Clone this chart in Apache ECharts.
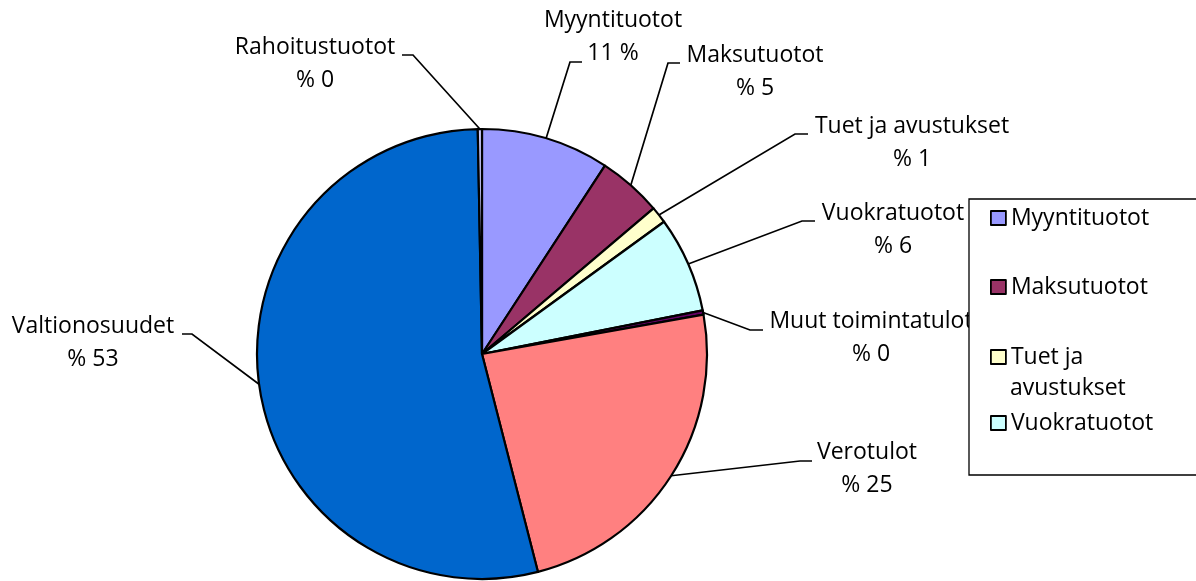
<!DOCTYPE html>
<html><head><meta charset="utf-8">
<script src="https://cdn.jsdelivr.net/npm/echarts@6/dist/echarts.min.js"></script>
<style>html,body{margin:0;padding:0;background:#fff}#c{width:1196px;height:581px}</style>
</head><body><div id="c"></div>
<script>
const categories = ['Myyntituotot','Maksutuotot','Tuet ja avustukset','Vuokratuotot','Muut toimintatulot','Verotulot','Valtionosuudet','Rahoitustuotot'];
const values = [9.2, 4.6, 1.2, 6.9, 0.3, 23.8, 53.7, 0.3];
const percentLabels = ['11 %','% 5','% 1','% 6','% 0','% 25','% 53','% 0'];
const colors = ['#9999FF','#993366','#FFFFCC','#CCFFFF','#660066','#FF8080','#0066CC','#CCCCFF'];
const legendNames = ['Myyntituotot','Maksutuotot','Tuet ja avustukset','Vuokratuotot'];
const legendTexts = ['Myyntituotot','Maksutuotot','Tuet ja','Vuokratuotot'];

const FONT = 'Open Sans';
const FS = 23;
const CX = 482, CY = 354, R = 225;
// label block centre [x, y], leader elbow [x, y], leader end [x, y]
const labelPlace = [
  [613, 37, 570, 62, 582, 62],
  [755, 72, 668, 63, 680, 63],
  [912, 143, 795, 134, 808, 134],
  [893, 230, 802, 221, 815, 221],
  [871, 338, 750, 330, 763, 330],
  [867, 469, 800, 461, 812, 461],
  [93, 343, 192, 334, 182, 334],
  [315, 64, 413, 55, 402, 55]
];
const legendTops = [201.5, 270.5, 340.5, 406.5];

const total = values.reduce((a, b) => a + b, 0);
const arcPoints = [];
let cum = 0;
values.forEach(v => {
  const th = (cum + v / 2) / total * Math.PI * 2;
  arcPoints.push([CX + R * Math.sin(th), CY - R * Math.cos(th)]);
  cum += v;
});

const chart = echarts.init(document.getElementById('c'), null, {renderer: 'canvas'});
const legends = legendNames.map((n, i) => {
  const base = {
    data: [n],
    orient: 'vertical',
    left: i === 0 ? 969 : 990,
    top: i === 0 ? 199 : legendTops[i],
    itemWidth: 15,
    itemHeight: 14,
    itemGap: 0,
    icon: 'rect',
    selectedMode: false,
    itemStyle: {borderColor: '#000', borderWidth: 1.8},
    textStyle: {fontFamily: FONT, fontSize: FS, color: '#000', lineHeight: 33},
    formatter: () => legendTexts[i],
    z: 10
  };
  if (i === 0) {
    base.padding = [2.5, 140, 240.5, 21];
    base.backgroundColor = '#fff';
    base.borderColor = '#000';
    base.borderWidth = 1.3;
  } else {
    base.padding = 0;
    base.z = 11;
  }
  return base;
});

chart.setOption({
  animation: false,
  backgroundColor: '#fff',
  color: colors,
  legend: legends,
  graphic: [{
    type: 'text', left: 1010, top: 388 - 16.5, z: 12,
    style: {text: 'avustukset', fontFamily: FONT, fontSize: FS, fill: '#000', lineHeight: 33}
  }],
  series: [{
    type: 'pie',
    center: [CX, CY],
    radius: R,
    startAngle: 90,
    clockwise: true,
    avoidLabelOverlap: false,
    minAngle: 0,
    data: categories.map((c, i) => ({name: c, value: values[i]})),
    itemStyle: {borderColor: '#000', borderWidth: 2.2},
    label: {
      show: true,
      position: 'outside',
      formatter: p => p.name + '\n' + percentLabels[p.dataIndex],
      fontFamily: FONT, fontSize: FS, color: '#000', lineHeight: 33,
      align: 'center'
    },
    labelLine: {show: true, length: 10, length2: 10, lineStyle: {color: '#000', width: 1.7}},
    labelLayout: function (params) {
      const i = params.dataIndex;
      const p = labelPlace[i];
      return {
        x: p[0], y: p[1], align: 'center', verticalAlign: 'middle',
        labelLinePoints: [arcPoints[i], [p[2], p[3]], [p[4], p[5]]]
      };
    },
    emphasis: {disabled: true}
  }]
});
</script></body></html>
